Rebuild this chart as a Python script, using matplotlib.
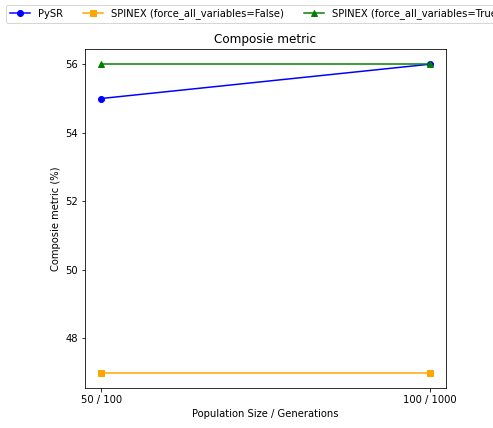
import matplotlib
matplotlib.use('Agg')
import matplotlib.pyplot as plt

# settings tested
settings = ['50 / 100', '100 / 1000']

# composite metric (%) per method
pysr = [55, 56]
spinex_false = [47, 47]
spinex_true = [56, 56]

fig = plt.figure(figsize=(493 / 72, 428 / 72), dpi=72)
ax = fig.add_axes([0.172, 0.093, 0.733, 0.793])

x = range(len(settings))
ax.plot(x, pysr, 'o-', color='blue', label='PySR')
ax.plot(x, spinex_false, 's-', color='orange', label='SPINEX (force_all_variables=False)')
ax.plot(x, spinex_true, '^-', color='green', label='SPINEX (force_all_variables=True)')

ax.set_xticks(list(x))
ax.set_xticklabels(settings)
ax.set_xlabel('Population Size / Generations')
ax.set_ylabel('Composie metric (%)')
ax.set_title('Composie metric')
ax.legend(loc='upper center', bbox_to_anchor=(0.472, 1.145), ncol=3)

fig.savefig('out.png', dpi=72)
